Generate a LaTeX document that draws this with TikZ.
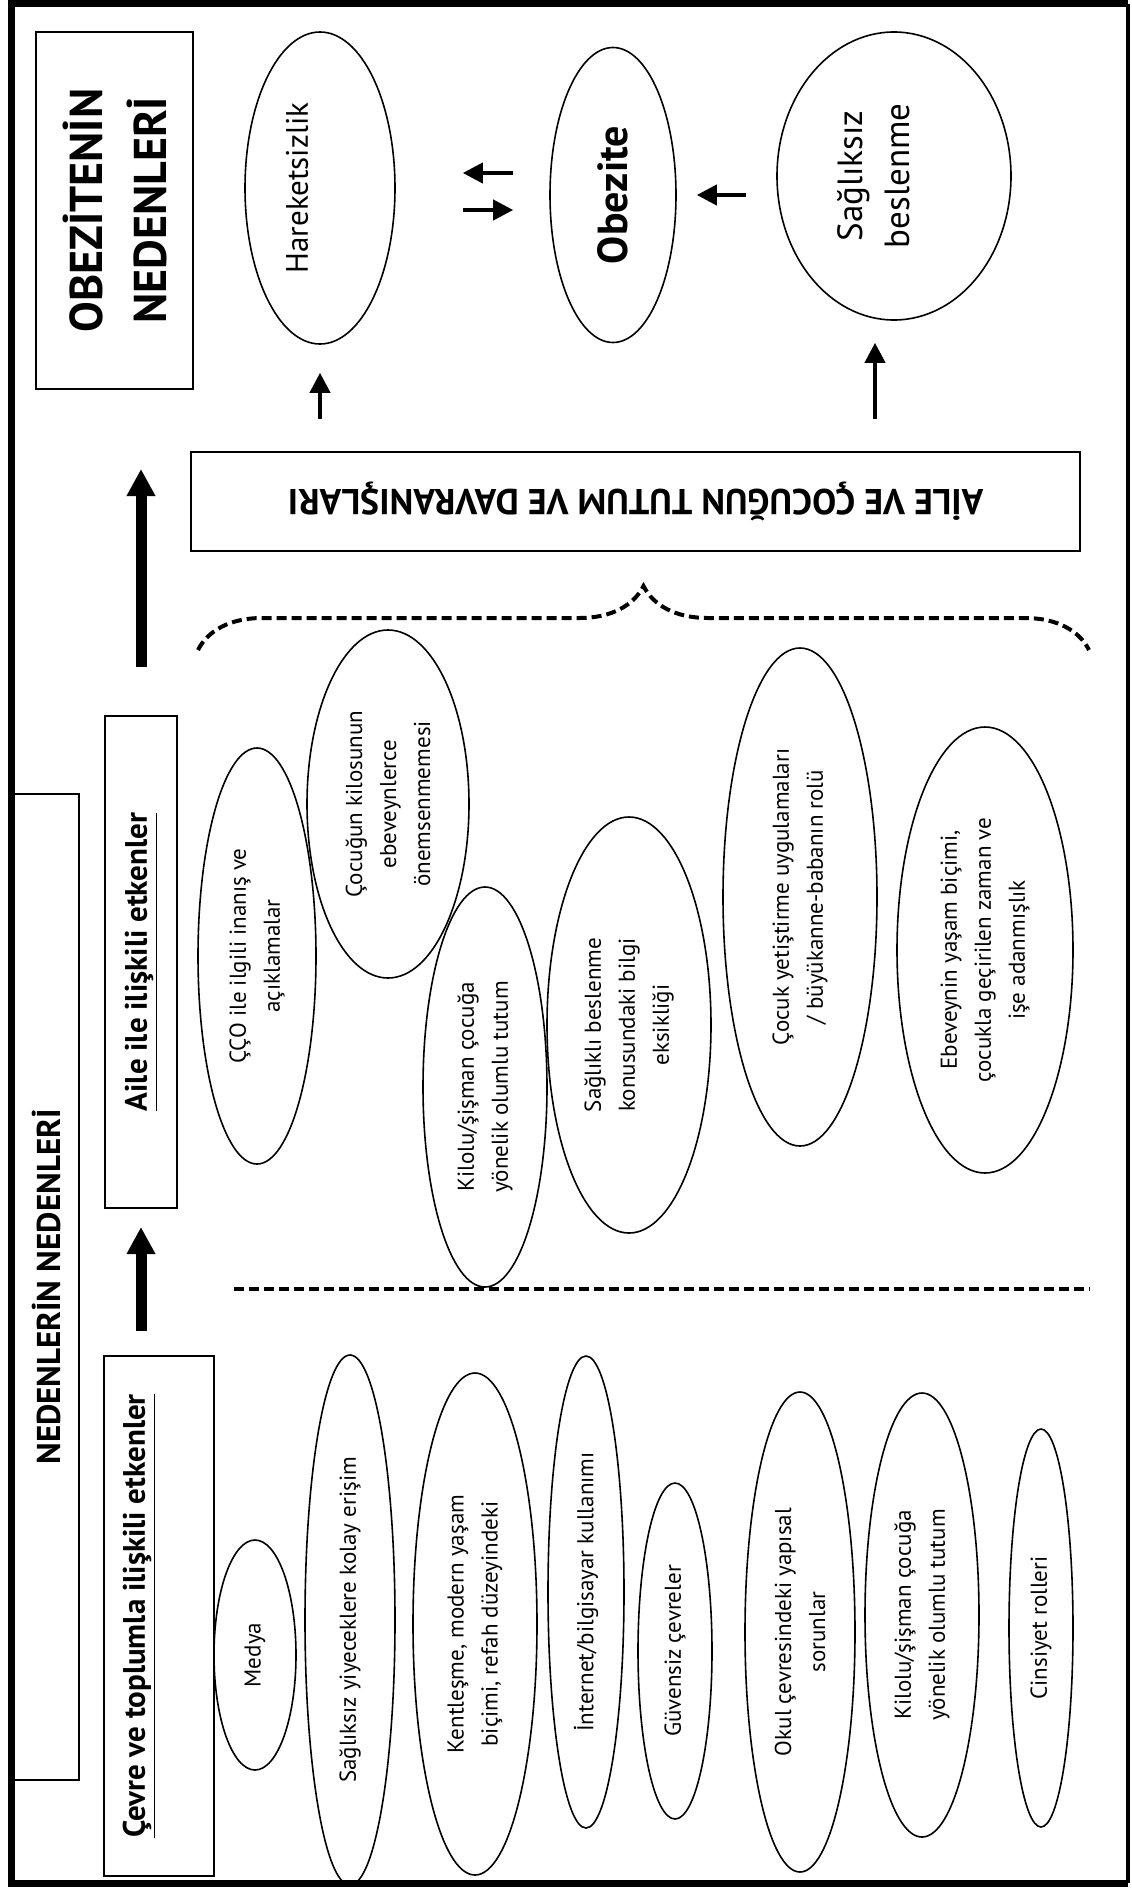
\documentclass[tikz,border=0pt]{standalone}
\usepackage{fontspec}
\setmainfont{PT Sans}
\usepackage{tikz}
\usetikzlibrary{shapes.geometric}
\usetikzlibrary{arrows.meta}
\usetikzlibrary{decorations.pathreplacing}

\tikzset{
  oval/.style={ellipse, draw, line width=0.8pt, rotate=90, align=center, inner sep=0pt, font=\fontsize{11.5}{17}\selectfont},
  tallbox/.style={rectangle, draw, line width=1pt, rotate=90, align=center, inner sep=0pt},
  thinarrow/.style={line width=2pt, -{Triangle[length=10pt, width=10pt]}},
  thickarrow/.style={line width=5.5pt, -{Triangle[length=13.5pt, width=13.5pt]}},
  dashline/.style={line width=2pt, dash pattern=on 5pt off 2.5pt},
}

\begin{document}
\begin{tikzpicture}[x=0.5pt, y=-0.5pt]
            \useasboundingbox (0,0) rectangle (1131,1889);

            % Frame
            \draw[line width=3.5pt] (1128,4) -- (11,4) -- (11,1883) -- (1128,1883);
            \draw[line width=2pt] (1128,4) -- (1128,1883);

            % Top row
            \node[tallbox, minimum width=178.5pt, minimum height=78.5pt, font=\fontsize{23}{32}\selectfont\bfseries] (baslik) at (114.5,210.5) {OBEZİTENİN\\NEDENLERİ};
            \node[oval, minimum width=156pt, minimum height=75pt] (hareket) at (320,188) {};
            \node[rotate=90, font=\fontsize{15.5}{18}\selectfont] (hareketyazi) at ([xshift=-11.5pt]hareket.center) {Hareketsizlik};
            \node[oval, minimum width=147.5pt, minimum height=63pt, font=\fontsize{21}{24}\selectfont\bfseries] (obezite) at (613,195) {Obezite};
            \node[oval, minimum width=144pt, minimum height=117pt] (sagliksiz) at (894,176) {};
            \node[rotate=90, align=center, font=\fontsize{17.5}{23.5}\selectfont] (sagliksizyazi) at ([xshift=-10pt]sagliksiz.center) {Sağlıksız\\beslenme};
            \node[draw, line width=1pt, minimum width=444.5pt, minimum height=49.5pt, inner sep=0pt, font=\fontsize{18}{20}\selectfont\bfseries] (ailecocuk) at (635.5,501.5) {\rotatebox{180}{AİLE VE ÇOCUĞUN TUTUM VE DAVRANIŞLARI}};

            % Brace
            \draw[dashline, decorate, decoration={brace, amplitude=32pt}] (198,650) -- (1089,650);

            % Family factors
            \node[tallbox, minimum width=246pt, minimum height=36pt, font=\fontsize{15.5}{16}\selectfont\bfseries] (aileile) at (141,962) {\underline{Aile ile ilişkili etkenler}};
            \node[oval, minimum width=208pt, minimum height=59pt] (cco) at (257,956) {ÇÇO ile ilgili inanış ve\\açıklamalar};
            \node[oval, minimum width=174pt, minimum height=81pt] (kilosu) at (388,804) {Çocuğun kilosunun\\ebeveynlerce\\önemsenmemesi};
            \node[oval, minimum width=200pt, minimum height=62pt] (kilolu) at (485,1087) {Kilolu/şişman çocuğa\\yönelik olumlu tutum};
            \node[oval, minimum width=208pt, minimum height=82pt] (saglikli) at (629,1025) {Sağlıklı beslenme\\konusundaki bilgi\\eksikliği};
            \node[oval, minimum width=249pt, minimum height=77pt] (yetistirme) at (800,897) {Çocuk yetiştirme uygulamaları\\/ büyükanne-babanın rolü};
            \node[oval, minimum width=223pt, minimum height=88pt] (ebeveyn) at (985,950) {Ebeveynin yaşam biçimi,\\çocukla geçirilen zaman ve\\işe adanmışlık};

            % Separator
            \draw[dashline] (234,1289) -- (1090,1289);

            % Environment factors
            \node[tallbox, minimum width=493pt, minimum height=32.5pt, font=\fontsize{16.5}{20}\selectfont\bfseries] (nedenler) at (46.5,1287) {NEDENLERİN NEDENLERİ};
            \node[tallbox, minimum width=260pt, minimum height=55pt] (cevre) at (159,1616) {};
            \node[rotate=90, font=\fontsize{15.5}{16}\selectfont\bfseries] (cevreyazi) at ([xshift=-10pt]cevre.center) {\underline{Çevre ve toplumla ilişkili etkenler}};
            \node[oval, minimum width=115pt, minimum height=41pt] (medya) at (255,1655) {Medya};
            \node[oval, minimum width=265pt, minimum height=45pt] (yiyecek) at (350,1620) {Sağlıksız yiyeceklere kolay erişim};
            \node[oval, minimum width=251pt, minimum height=62pt] (kentlesme) at (475,1624) {Kentleşme, modern yaşam\\biçimi, refah düzeyindeki};
            \node[oval, minimum width=236pt, minimum height=38pt] (internet) at (586,1592) {İnternet/bilgisayar kullanımı};
            \node[oval, minimum width=168pt, minimum height=37pt] (guvensiz) at (675,1651) {Güvensiz çevreler};
            \node[oval, minimum width=240pt, minimum height=55pt] (okul) at (800,1632) {Okul çevresindeki yapısal\\sorunlar};
            \node[oval, minimum width=222pt, minimum height=57pt] (kilolu2) at (922,1615) {Kilolu/şişman çocuğa\\yönelik olumlu tutum};
            \node[oval, minimum width=199pt, minimum height=32pt] (cinsiyet) at (1041,1628) {Cinsiyet rolleri};

            % Edges
            \draw[thickarrow, shorten <=24pt, shorten >=39.5pt] (aileile.east) -- (aileile.east |- baslik.west);
            \draw[thickarrow, shorten <=12pt, shorten >=9pt] (aileile.west |- cevre.east) -- (aileile.west);
            \draw[thinarrow, shorten <=16pt, shorten >=14pt] (hareket.west |- ailecocuk.north) -- (hareket.west);
            \draw[thinarrow, shorten <=16pt, shorten >=11pt] ([xshift=-9.5pt]sagliksiz.west |- ailecocuk.north) -- ([xshift=-9.5pt]sagliksiz.west);
            \draw[thinarrow, shorten <=15pt, shorten >=10pt] (sagliksiz.north |- obezite.south) -- (obezite.south);
            \draw[thinarrow, shorten <=18pt, shorten >=33.5pt] ([yshift=11pt]obezite.north) -- ([yshift=11pt]obezite.north -| hareket.south);
            \draw[thinarrow, shorten <=33.5pt, shorten >=18pt] ([yshift=-7.5pt]obezite.north -| hareket.south) -- ([yshift=-7.5pt]obezite.north);
        \end{tikzpicture}
\end{document}
